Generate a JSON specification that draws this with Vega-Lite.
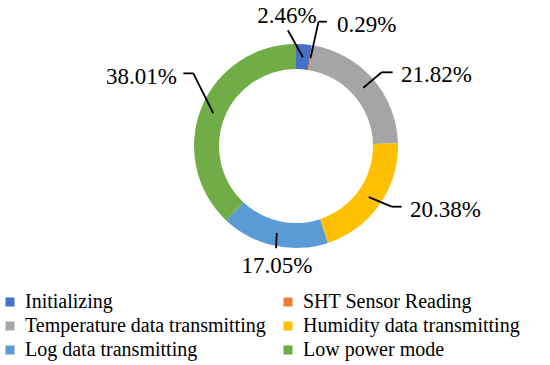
{
  "$schema": "https://vega.github.io/schema/vega-lite/v6.json",
  "width": 508,
  "height": 292,
  "autosize": {"type": "none"},
  "padding": {"left": 42, "top": 0, "right": 0, "bottom": 73},
  "background": "white",
  "config": {"view": {"stroke": null}, "font": "Liberation Serif, Times New Roman, DejaVu Serif, serif"},
  "data": {
    "values": [
      {"label": "Initializing", "value": 2.46},
      {"label": "SHT Sensor Reading", "value": 0.29},
      {"label": "Temperature data transmitting", "value": 21.82},
      {"label": "Humidity data transmitting", "value": 20.38},
      {"label": "Log data transmitting", "value": 17.05},
      {"label": "Low power mode", "value": 38.01}
    ]
  },
  "transform": [
    {"window": [{"op": "row_number", "as": "idx"}]},
    {"stack": "value", "groupby": [], "sort": [{"field": "idx", "order": "ascending"}], "as": ["v0", "v1"]},
    {"joinaggregate": [{"op": "sum", "field": "value", "as": "total"}]},
    {"calculate": "PI*(datum.v0+datum.v1)/datum.total", "as": "ang"},
    {"calculate": "89*sin(datum.ang)", "as": "x0"},
    {"calculate": "89*cos(datum.ang)", "as": "y0"},
    {"calculate": "format(datum.value, '.2f') + '%'", "as": "txt"}
  ],
  "encoding": {
    "x": {"type": "quantitative", "scale": {"domain": [-254, 254], "nice": false, "zero": false}, "axis": null},
    "y": {"type": "quantitative", "scale": {"domain": [-146, 146], "nice": false, "zero": false}, "axis": null}
  },
  "layer": [
    {
      "mark": {"type": "arc", "outerRadius": 102, "innerRadius": 77},
      "encoding": {
        "x": null,
        "y": null,
        "theta": {"field": "v0", "type": "quantitative", "scale": {"domain": [0, 100.01]}},
        "theta2": {"field": "v1"},
        "color": {
          "field": "label",
          "type": "nominal",
          "sort": null,
          "scale": {
            "domain": ["Initializing", "SHT Sensor Reading", "Temperature data transmitting", "Humidity data transmitting", "Log data transmitting", "Low power mode"],
            "range": ["#4472C4", "#ED7D31", "#A5A5A5", "#FFC000", "#5B9BD5", "#70AD47"]
          },
          "legend": {
            "orient": "none",
            "direction": "horizontal",
            "legendX": -42,
            "legendY": 292,
            "columns": 2,
            "title": null,
            "symbolType": "square",
            "symbolSize": 81,
            "symbolStrokeWidth": 0,
            "symbolOpacity": 1,
            "labelFont": "Liberation Serif, Times New Roman, DejaVu Serif, serif",
            "labelFontSize": 20,
            "labelColor": "black",
            "labelOffset": 5,
            "labelLimit": 400,
            "rowPadding": 4,
            "columnPadding": 12,
            "padding": 0
          }
        }
      }
    },
    {
      "transform": [
        {"filter": {"field": "label", "equal": "Initializing"}},
        {"calculate": "datum.x0 - 15", "as": "x1"},
        {"calculate": "datum.y0 + 27", "as": "y1"}
      ],
      "layer": [
        {"mark": {"type": "rule", "color": "black", "strokeWidth": 1.8}, "encoding": {"x": {"field": "x0"}, "y": {"field": "y0"}, "x2": {"field": "x1"}, "y2": {"field": "y1"}}},
        {"mark": {"type": "text", "fontSize": 23, "color": "black", "align": "center", "baseline": "middle", "dx": -16, "dy": -41}, "encoding": {"x": {"field": "x0"}, "y": {"field": "y0"}, "text": {"field": "txt"}}}
      ]
    },
    {
      "transform": [
        {"filter": {"field": "label", "equal": "SHT Sensor Reading"}},
        {"calculate": "datum.x0 + 8", "as": "x1"},
        {"calculate": "datum.y0 + 36.5", "as": "y1"},
        {"calculate": "datum.x1 + 8.5", "as": "x2"}
      ],
      "layer": [
        {"mark": {"type": "rule", "color": "black", "strokeWidth": 1.8}, "encoding": {"x": {"field": "x0"}, "y": {"field": "y0"}, "x2": {"field": "x1"}, "y2": {"field": "y1"}}},
        {"mark": {"type": "rule", "color": "black", "strokeWidth": 1.8}, "encoding": {"x": {"field": "x1"}, "y": {"field": "y1"}, "x2": {"field": "x2"}, "y2": {"field": "y1"}}},
        {"mark": {"type": "text", "fontSize": 23, "color": "black", "align": "left", "baseline": "middle", "dx": 26.5, "dy": -33}, "encoding": {"x": {"field": "x0"}, "y": {"field": "y0"}, "text": {"field": "txt"}}}
      ]
    },
    {
      "transform": [
        {"filter": {"field": "label", "equal": "Temperature data transmitting"}},
        {"calculate": "datum.x0 + 18.3", "as": "x1"},
        {"calculate": "datum.y0 + 15.5", "as": "y1"},
        {"calculate": "datum.x1 + 11", "as": "x2"}
      ],
      "layer": [
        {"mark": {"type": "rule", "color": "black", "strokeWidth": 1.8}, "encoding": {"x": {"field": "x0"}, "y": {"field": "y0"}, "x2": {"field": "x1"}, "y2": {"field": "y1"}}},
        {"mark": {"type": "rule", "color": "black", "strokeWidth": 1.8}, "encoding": {"x": {"field": "x1"}, "y": {"field": "y1"}, "x2": {"field": "x2"}, "y2": {"field": "y1"}}},
        {"mark": {"type": "text", "fontSize": 23, "color": "black", "align": "left", "baseline": "middle", "dx": 37.6, "dy": -13.3}, "encoding": {"x": {"field": "x0"}, "y": {"field": "y0"}, "text": {"field": "txt"}}}
      ]
    },
    {
      "transform": [
        {"filter": {"field": "label", "equal": "Humidity data transmitting"}},
        {"calculate": "datum.x0 + 22.9", "as": "x1"},
        {"calculate": "datum.y0 - 9.5", "as": "y1"},
        {"calculate": "datum.x1 + 10", "as": "x2"}
      ],
      "layer": [
        {"mark": {"type": "rule", "color": "black", "strokeWidth": 1.8}, "encoding": {"x": {"field": "x0"}, "y": {"field": "y0"}, "x2": {"field": "x1"}, "y2": {"field": "y1"}}},
        {"mark": {"type": "rule", "color": "black", "strokeWidth": 1.8}, "encoding": {"x": {"field": "x1"}, "y": {"field": "y1"}, "x2": {"field": "x2"}, "y2": {"field": "y1"}}},
        {"mark": {"type": "text", "fontSize": 23, "color": "black", "align": "left", "baseline": "middle", "dx": 41.2, "dy": 12.3}, "encoding": {"x": {"field": "x0"}, "y": {"field": "y0"}, "text": {"field": "txt"}}}
      ]
    },
    {
      "transform": [
        {"filter": {"field": "label", "equal": "Log data transmitting"}},
        {"calculate": "datum.x0 - 0.7", "as": "x1"},
        {"calculate": "datum.y0 - 15.4", "as": "y1"}
      ],
      "layer": [
        {"mark": {"type": "rule", "color": "black", "strokeWidth": 1.8}, "encoding": {"x": {"field": "x0"}, "y": {"field": "y0"}, "x2": {"field": "x1"}, "y2": {"field": "y1"}}},
        {"mark": {"type": "text", "fontSize": 23, "color": "black", "align": "center", "baseline": "middle", "dx": 0.3, "dy": 33.6}, "encoding": {"x": {"field": "x0"}, "y": {"field": "y0"}, "text": {"field": "txt"}}}
      ]
    },
    {
      "transform": [
        {"filter": {"field": "label", "equal": "Low power mode"}},
        {"calculate": "datum.x0 - 19.9", "as": "x1"},
        {"calculate": "datum.y0 + 39.9", "as": "y1"},
        {"calculate": "datum.x1 - 10", "as": "x2"}
      ],
      "layer": [
        {"mark": {"type": "rule", "color": "black", "strokeWidth": 1.8}, "encoding": {"x": {"field": "x0"}, "y": {"field": "y0"}, "x2": {"field": "x1"}, "y2": {"field": "y1"}}},
        {"mark": {"type": "rule", "color": "black", "strokeWidth": 1.8}, "encoding": {"x": {"field": "x1"}, "y": {"field": "y1"}, "x2": {"field": "x2"}, "y2": {"field": "y1"}}},
        {"mark": {"type": "text", "fontSize": 23, "color": "black", "align": "right", "baseline": "middle", "dx": -36.2, "dy": -36.7}, "encoding": {"x": {"field": "x0"}, "y": {"field": "y0"}, "text": {"field": "txt"}}}
      ]
    }
  ]
}
